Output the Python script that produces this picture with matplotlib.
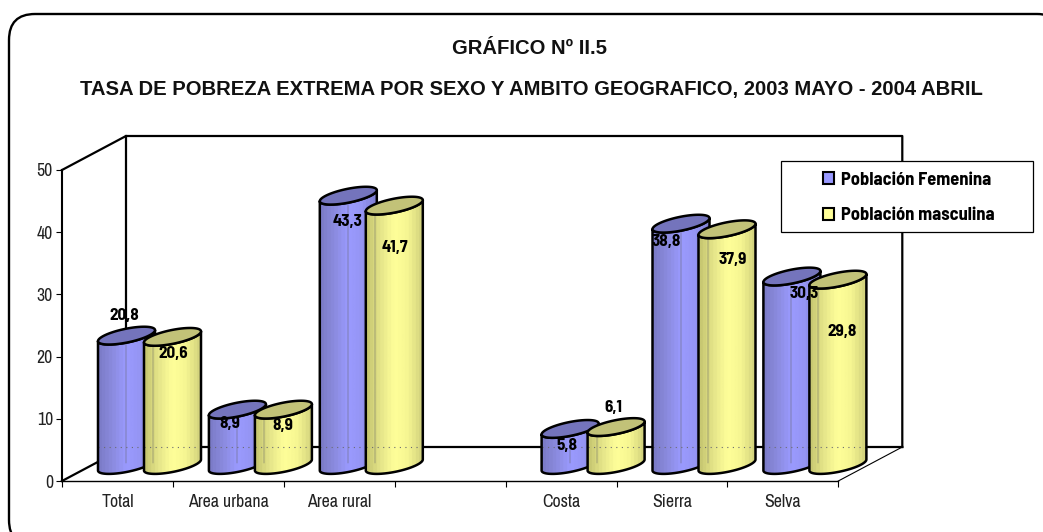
import numpy as np
import matplotlib
matplotlib.use("Agg")
import matplotlib.pyplot as plt
from matplotlib.colors import LinearSegmentedColormap
from matplotlib.patches import FancyBboxPatch, Patch, Polygon, Rectangle

categories = ["Total", "Area urbana", "Area rural", "", "Costa", "Sierra", "Selva"]
femenina = [20.8, 8.9, 43.3, None, 5.8, 38.8, 30.3]
masculina = [20.6, 8.9, 41.7, None, 6.1, 37.9, 29.8]
femenina_txt = ["20,8", "8,9", "43,3", None, "5,8", "38,8", "30,3"]
masculina_txt = ["20,6", "8,9", "41,7", None, "6,1", "37,9", "29,8"]
y_ticks = [0, 10, 20, 30, 40, 50]

# label centres in pixels, Excel placed them a bit randomly
femenina_lab = [(124, 315), (230, 424), (348, 222), None, (567, 446), (666, 242), (804, 293)]
masculina_lab = [(173, 354), (283, 425), (395, 248), None, (613, 408), (733, 260), (842, 332)]

W, H = 1043, 532
X0, Y0 = 62, 481        # where 0 sits on the front axis
CAT = 110.9             # pixels per category
VAL = 6.22              # pixels per unit
DX, DY = 64, 34         # 3d depth

NARROW = ["Archivo Narrow", "Liberation Sans"]
NARROW_B = ["Barlow Semi Condensed", "Liberation Sans"]
plt.rcParams["font.family"] = NARROW


def xd(px):
    return (px - X0) / CAT


def yd(py):
    return (Y0 - py) / VAL


fig = plt.figure(figsize=(W / 100, H / 100), dpi=100)

# frame in pixels, it runs off the right and the bottom of the picture
bg = fig.add_axes([0, 0, 1, 1])
bg.set_xlim(0, W)
bg.set_ylim(H, 0)
bg.axis("off")
bg.add_patch(FancyBboxPatch((35, 40), 1002, 480, boxstyle="round,pad=26,rounding_size=26",
                            fc="white", ec="black", lw=1.7))

ax = fig.add_axes([0, 0, 1, 1], facecolor="none")
ax.set_xlim(xd(0), xd(W))
ax.set_ylim(yd(H), yd(0))

for s in ["top", "right"]:
    ax.spines[s].set_visible(False)
ax.spines["left"].set_position(("data", 0))
ax.spines["bottom"].set_position(("data", 0))
ax.spines["left"].set_bounds(0, 50)
ax.spines["bottom"].set_bounds(0, 7)
ax.spines["left"].set_linewidth(1.5)
ax.spines["bottom"].set_linewidth(1.0)
ax.set_yticks(y_ticks)
ax.set_xticks(range(8))
ax.set_xticklabels([])
ax.set_xticks(np.arange(7) + 0.5, categories, minor=True)
ax.tick_params(axis="x", which="major", length=4.3, width=0.8, color="black")
ax.tick_params(axis="x", which="minor", length=0, pad=9.5, labelsize=12.8, labelcolor="#222222")
ax.tick_params(axis="y", length=4.3, width=0.8, pad=2.2, labelsize=12.8, labelcolor="#222222")

# back wall and floor
dx = DX / CAT
dy = DY / VAL
ax.plot([0, dx, 7 + dx, 7 + dx], [50, 50 + dy, 50 + dy, dy], color="black", lw=1.6, zorder=1)
ax.plot([dx, dx], [dy, 50 + dy], color="black", lw=1.6, zorder=1)
ax.plot([0, dx, 7 + dx], [0, dy, dy], color="black", lw=1.6, zorder=1)
ax.plot([7, 7 + dx], [0, dy], color="black", lw=0.8, zorder=1)

blue = LinearSegmentedColormap.from_list("b", ["#7c7cc8", "#8c8ce0", "#9a9aff", "#9595f4", "#8080d4"], N=16)
yellow = LinearSegmentedColormap.from_list("y", ["#c8c872", "#e6e68a", "#ffff99", "#f6f692", "#d4d47e"], N=16)

BAR_W = 57
TILT, OPEN = 5.5, 7.0
BASE = Y0 - 16.0        # pixel row of the bottom ellipse centre


def ellipse(cx, cy, t):
    x = cx + BAR_W / 2 * np.cos(t)
    y = cy - TILT * np.cos(t) + OPEN * np.sin(t)
    return xd(x), yd(y)


def cylinder(left, value, cmap, top_color, inner):
    cx = left + BAR_W / 2
    cy_b = BASE
    cy_t = BASE - value * VAL
    # lower half arcs, from the right tip to the left tip
    t = np.linspace(0, np.pi, 60)
    xb, yb = ellipse(cx, cy_b, t)
    xt, yt = ellipse(cx, cy_t, t)
    outline = np.r_[np.c_[xb, yb], np.c_[xt, yt][::-1]]
    body = Polygon(outline, closed=True, fc="none", ec="none", zorder=3)
    ax.add_patch(body)
    grad = np.linspace(0, 1, 120).reshape(1, -1)
    im = ax.imshow(grad, cmap=cmap, aspect="auto", zorder=3,
                   extent=(xd(left), xd(left + BAR_W), yd(BASE + 12), yd(cy_t - 12)))
    im.set_clip_path(body)
    # the wall shows through the glassy bars
    ax.plot([xd(left + inner)] * 2, [yd(BASE - 2), yd(cy_t + 6)], color="#666666", lw=0.35, zorder=3)
    ax.plot([xd(left), xd(left + BAR_W)], [dy, dy], color="#6a6a70", lw=0.8, ls=(0, (1, 4)), zorder=3)
    ax.add_patch(Polygon(outline, closed=True, fc="none", ec="black", lw=1.8, joinstyle="round", zorder=3))
    ta = np.linspace(0, 2 * np.pi, 120)
    xe, ye = ellipse(cx, cy_t, ta)
    ax.add_patch(Polygon(np.c_[xe, ye], closed=True, fc=top_color, ec="black", lw=1.8, zorder=3))


for i in range(len(categories)):
    if femenina[i] is None:
        continue
    base_x = X0 + CAT * i + 36
    cylinder(base_x, femenina[i], blue, "#7474bc", 28)
    cylinder(base_x + 46, masculina[i], yellow, "#c2c278", 9)

for txts, pos in [(femenina_txt, femenina_lab), (masculina_txt, masculina_lab)]:
    for t, p in zip(txts, pos):
        if t is not None:
            ax.text(xd(p[0]), yd(p[1]), t, ha="center", va="center", fontsize=12.3,
                    fontweight="bold", family=NARROW_B, color="black", zorder=5)

# titles
bg.text(530, 48, "GRÁFICO Nº II.5", ha="center", va="center", fontsize=14.6, fontweight="bold",
        family="Liberation Sans", color="#111111")
bg.text(531, 89, "TASA DE POBREZA EXTREMA POR SEXO Y AMBITO GEOGRAFICO, 2003 MAYO - 2004 ABRIL",
        ha="center", va="center", fontsize=14.6, fontweight="bold", family="Liberation Sans", color="#111111")

# legend box sits over the wall
ax.add_patch(Rectangle((xd(781), yd(232)), 252 / CAT, 71 / VAL, fc="white", ec="black", lw=0.9, zorder=6))
handles = [Patch(fc="#9999ff", ec="black", lw=1.5), Patch(fc="#ffff99", ec="black", lw=1.5)]
leg = ax.legend(handles, ["Población Femenina", "Población masculina"], frameon=False,
                loc="center left", bbox_to_anchor=(823 / W, 1 - 198 / H),
                handlelength=0.61, handleheight=0.61, handletextpad=0.38,
                labelspacing=1.02, borderpad=0, borderaxespad=0,
                prop={"family": NARROW_B, "weight": "bold", "size": 13.3})
leg.set_zorder(7)

fig.savefig("out.png", dpi=100, facecolor="white")
